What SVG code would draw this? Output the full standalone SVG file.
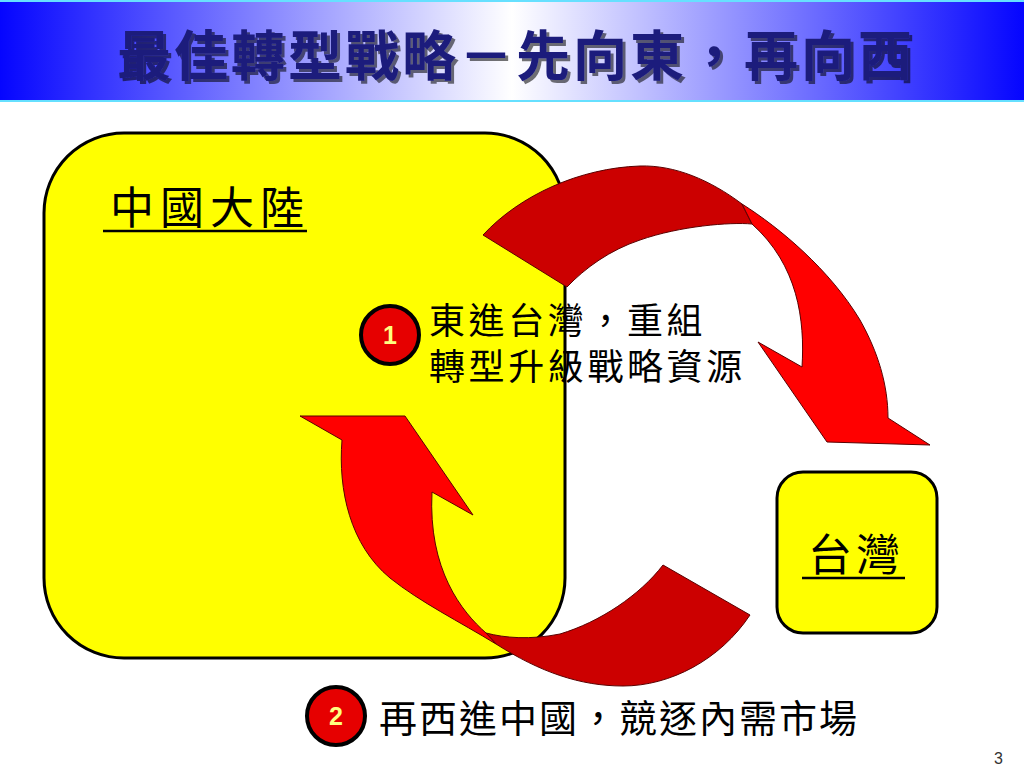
<svg xmlns="http://www.w3.org/2000/svg" width="1024" height="768" viewBox="0 0 1024 768">
<defs>
  <linearGradient id="titleGrad" x1="0" y1="0" x2="1" y2="0">
    <stop offset="0" stop-color="#0505ff"/>
    <stop offset="0.5" stop-color="#ffffff"/>
    <stop offset="1" stop-color="#0505ff"/>
  </linearGradient>
  <filter id="shadow" x="-5%" y="-20%" width="110%" height="140%">
    <feDropShadow dx="3" dy="3" stdDeviation="0.6" flood-color="#000" flood-opacity="0.55"/>
  </filter>
  <style>
    .cjk { font-family: "Noto Sans CJK TC", "Noto Sans CJK SC", sans-serif; fill: #000; }
    .box { fill: #ffff00; stroke: #000; stroke-width: 3; }
    .front { fill: #ff0000; stroke: #5a0000; stroke-width: 1; stroke-linejoin: round; }
    .back { fill: #cc0000; stroke: #5a0000; stroke-width: 1; stroke-linejoin: round; }
    .ul { stroke: #000; stroke-width: 2.5; }
    .badge { fill: #e60000; stroke: #000; stroke-width: 4; }
    .num { font-family: "Liberation Sans", Arial, sans-serif; font-weight: bold; font-size: 25px; fill: #ffff80; }
  </style>
</defs>

<!-- title bar -->
<g id="title">
  <rect x="0" y="0" width="1024" height="102" fill="url(#titleGrad)"/>
  <line x1="0" y1="1" x2="1024" y2="1" stroke="#66e0ff" stroke-width="2"/>
  <line x1="0" y1="101" x2="1024" y2="101" stroke="#66e0ff" stroke-width="2"/>
  <text x="117" y="76" class="cjk" font-size="54" font-weight="bold" letter-spacing="3" style="fill:#1c1c7c" filter="url(#shadow)">最佳轉型戰略－先向東，再向西</text>
</g>

<!-- China node -->
<g id="china">
  <rect class="box" x="44" y="133" width="521" height="525" rx="80" ry="80"/>
  <text x="110" y="224" class="cjk" font-size="44" letter-spacing="6">中國大陸</text>
  <line class="ul" x1="103" y1="231" x2="307" y2="231"/>
</g>

<!-- Taiwan node -->
<g id="taiwan">
  <rect class="box" x="777" y="472" width="160" height="161" rx="26" ry="26"/>
  <text x="808" y="571" class="cjk" font-size="44" letter-spacing="4">台灣</text>
  <line class="ul" x1="802" y1="578" x2="905" y2="578"/>
</g>

<!-- connectors: curved ribbon arrows -->
<g id="connectors">
  <g id="arrow-east">
    <path class="back" d="M483,235 C520,195 580,168 640,166 C675,165 710,180 742,204 L752,224 C730,222 680,226 640,240 C610,250 585,268 567,287 Z"/>
    <path class="front" d="M742,204 C780,228 830,270 860,320 C878,352 888,385 888,418 L930,445 L827,442 L758,342 L802,367 C805,320 798,265 752,224 Z"/>
  </g>
  <g id="arrow-west">
    <path class="back" d="M496,644 C540,672 580,686 623,686 C670,686 720,660 750,615 L663,565 C640,595 600,622 560,634 C530,640 505,638 486,633 Z"/>
    <path class="front" d="M405,416 L300,416 L342,440 C338,490 350,545 390,578 C420,602 460,622 496,644 L486,633 C462,612 428,570 432,492 L473,515 Z"/>
  </g>
</g>

<!-- step 1 -->
<g id="step1">
  <circle class="badge" cx="390" cy="335" r="29"/>
  <text x="390" y="344" class="num" text-anchor="middle">1</text>
  <text class="cjk" font-size="36" letter-spacing="3.6">
    <tspan x="429" y="334">東進台灣，重組</tspan>
    <tspan x="429" y="380">轉型升級戰略資源</tspan>
  </text>
</g>

<!-- step 2 -->
<g id="step2">
  <circle class="badge" cx="336" cy="716" r="29"/>
  <text x="336" y="725" class="num" text-anchor="middle">2</text>
  <text x="379" y="732" class="cjk" font-size="38" letter-spacing="2">再西進中國，競逐內需市場</text>
</g>

<text x="1003" y="764" font-family="Liberation Sans, Arial, sans-serif" font-size="16" fill="#333" text-anchor="end">3</text>
</svg>
